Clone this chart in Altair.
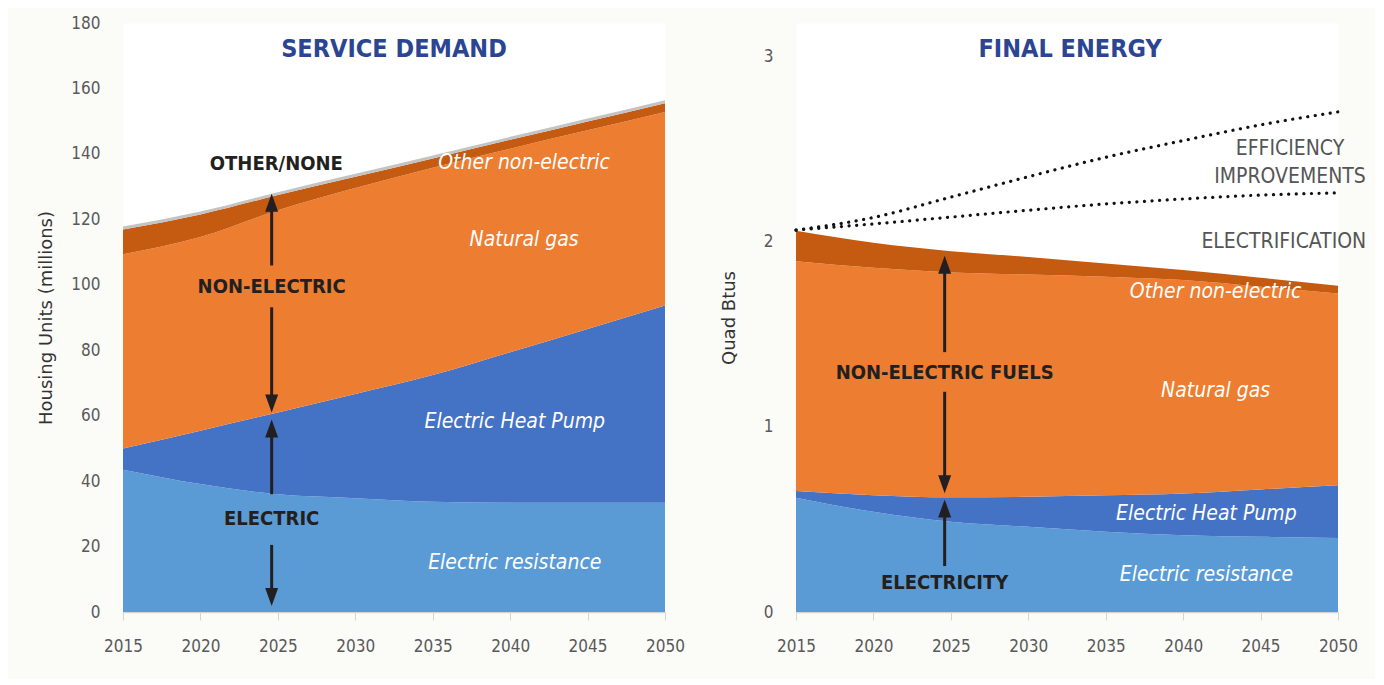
import altair as alt
import pandas as pd

# ---------------- data ----------------
years = [2015, 2020, 2025, 2030, 2035, 2040, 2045, 2050]
categories = ["Electric resistance", "Electric Heat Pump", "Natural gas",
              "Other non-electric", "Other/none"]
colors = ["#5B9BD5", "#4472C4", "#ED7D31", "#C55A11", "#C3C3C3"]

# Service demand: housing units (millions)
sd_resistance = [43.5, 39.1, 36.0, 34.8, 33.7, 33.4, 33.4, 33.4]
sd_heat_pump = [6.5, 16.3, 25.0, 31.8, 38.7, 46.0, 53.1, 60.3]
sd_natural_gas = [59.3, 59.2, 61.8, 63.0, 63.4, 62.2, 60.7, 59.1]
sd_other_nonelec = [7.6, 6.9, 4.6, 3.4, 2.8, 2.7, 2.7, 2.7]
sd_other_none = [0.9, 0.9, 0.9, 0.9, 0.9, 0.9, 0.9, 0.9]

# Final energy: quad Btus
fe_resistance = [0.617, 0.541, 0.487, 0.460, 0.433, 0.415, 0.406, 0.399]
fe_heat_pump = [0.036, 0.090, 0.132, 0.162, 0.197, 0.225, 0.256, 0.285]
fe_natural_gas = [1.241, 1.227, 1.214, 1.200, 1.180, 1.152, 1.094, 1.036]
fe_other_nonelec = [0.164, 0.135, 0.115, 0.095, 0.072, 0.054, 0.048, 0.041]

# Counterfactual totals (dotted lines)
fe_no_efficiency = [2.062, 2.130, 2.240, 2.350, 2.455, 2.545, 2.630, 2.700]
fe_no_electrification = [2.062, 2.095, 2.132, 2.169, 2.203, 2.230, 2.251, 2.263]

# annotation texts (year, value) in data coordinates
sd_title = ["SERVICE DEMAND"]
sd_title_pos = [(2032.5, 172.0)]
sd_group_labels = ["OTHER/NONE", "NON-ELECTRIC", "ELECTRIC"]
sd_group_pos = [(2024.9, 136.8), (2024.6, 99.3), (2024.6, 28.5)]
sd_series_labels = ["Other non-electric", "Natural gas", "Electric Heat Pump", "Electric resistance"]
sd_series_pos = [(2040.9, 137.3), (2040.9, 113.7), (2040.3, 58.2), (2040.3, 15.0)]
sd_arrow_year = 2024.6
sd_shafts = [(105.9, 124.0), (93.1, 64.0), (36.0, 56.0), (20.5, 5.0)]
sd_heads = [(127.85, "up"), (61.0, "down"), (58.8, "up"), (1.8, "down")]

fe_title = ["FINAL ENERGY"]
fe_title_pos = [(2032.7, 3.038)]
fe_group_labels = ["NON-ELECTRIC FUELS", "ELECTRICITY"]
fe_group_pos = [(2024.6, 1.292), (2024.6, 0.159)]
fe_gray_labels = ["EFFICIENCY", "IMPROVEMENTS", "ELECTRIFICATION"]
fe_gray_pos = [(2046.9, 2.499), (2046.9, 2.350), (2046.5, 1.997)]
fe_series_labels = ["Other non-electric", "Natural gas", "Electric Heat Pump", "Electric resistance"]
fe_series_pos = [(2042.1, 1.729), (2042.1, 1.193), (2041.5, 0.529), (2041.5, 0.200)]
fe_arrow_year = 2024.6
fe_shafts = [(1.403, 1.88), (1.189, 0.68), (0.248, 0.57)]
fe_heads = [(1.923, "up"), (0.641, "down"), (0.608, "up")]

# ---------------- styling ----------------
NARROW = "'Liberation Sans Narrow', 'DejaVu Sans Condensed', 'Roboto', sans-serif"
TITLE_FONT = "DejaVu Sans"
DARK = "#231F20"
NAVY = "#2B4592"
GRAY_TXT = "#595959"
W, H = 542, 589
UP = "M0,0L0.36,1L-0.36,1Z"
DOWN = "M0,0L0.36,-1L-0.36,-1Z"


def long_df(series):
    rows = []
    for k, (cat, vals) in enumerate(series):
        for y, v in zip(years, vals):
            rows.append({"year": y, "value": v, "category": cat, "k": k})
    return pd.DataFrame(rows)


def label_df(texts, pos):
    return pd.DataFrame({"label": texts,
                         "year": [p[0] for p in pos],
                         "value": [p[1] for p in pos]})


def panel(series, ymax, yticks, ytitle, title_pos, titles, group_txt, group_pos,
          series_txt, series_pos, arrow_year, shafts, heads, title_pad,
          extra_layers=None):
    xs = alt.Scale(domain=[2015, 2050], nice=False, zero=False)
    ys = alt.Scale(domain=[0, ymax], nice=False, zero=True)
    xaxis = alt.Axis(values=years, format="d", grid=False, domain=True,
                     domainColor="#D4D4D4", domainWidth=1.5, ticks=True,
                     tickColor="#D4D4D4", tickSize=8, tickWidth=1,
                     labelFont=NARROW, labelFontSize=17, labelColor=GRAY_TXT,
                     labelFlush=False, labelPadding=18, title="")
    yaxis = alt.Axis(values=yticks, grid=False, domain=False, ticks=False,
                     tickSize=0, labelFont=NARROW, labelFontSize=17,
                     labelColor=GRAY_TXT, labelPadding=23, labelFlush=False,
                     title=ytitle,
                     titleFont=TITLE_FONT, titleFontSize=18,
                     titleFontWeight="normal", titleColor="#333333",
                     titlePadding=title_pad)
    X = alt.X("year:Q", scale=xs, axis=xaxis)
    Y = alt.Y("value:Q", scale=ys, axis=yaxis)
    df = long_df(series)
    area = alt.Chart(df).mark_area(interpolate="monotone").encode(
        x=X,
        y=alt.Y("value:Q", stack="zero", scale=ys, axis=yaxis),
        color=alt.Color("category:N", scale=alt.Scale(domain=categories, range=colors),
                        legend=None),
        order=alt.Order("k:Q"),
    )
    layers = [area]
    if extra_layers:
        layers += [f(X, Y) for f in extra_layers]

    shaft_df = pd.DataFrame({"year": [arrow_year] * len(shafts),
                             "value": [s[0] for s in shafts],
                             "value2": [s[1] for s in shafts]})
    layers.append(alt.Chart(shaft_df).mark_rule(strokeWidth=3, color=DARK).encode(
        x=X, y=Y, y2="value2:Q"))
    head_df = pd.DataFrame({"year": [arrow_year] * len(heads),
                            "value": [h[0] for h in heads],
                            "dir": [h[1] for h in heads]})
    layers.append(alt.Chart(head_df).mark_point(filled=True, opacity=1, color=DARK,
                                                size=1296, strokeWidth=0).encode(
        x=X, y=Y,
        shape=alt.Shape("dir:N", scale=alt.Scale(domain=["up", "down"], range=[UP, DOWN]),
                        legend=None)))

    def txt(d, **kw):
        return alt.Chart(d).mark_text(baseline="middle", align="center", **kw).encode(
            x=X, y=Y, text="label:N")

    layers.append(txt(label_df(titles, title_pos), font=NARROW, fontSize=25,
                      fontWeight="bold", color=NAVY))
    layers.append(txt(label_df(group_txt, group_pos), font=NARROW, fontSize=20,
                      fontWeight="bold", color=DARK))
    layers.append(txt(label_df(series_txt, series_pos), font=NARROW, fontSize=21,
                      fontStyle="italic", color="white"))
    return alt.layer(*layers).properties(width=W, height=H)


sd_series = [(categories[0], sd_resistance), (categories[1], sd_heat_pump),
             (categories[2], sd_natural_gas), (categories[3], sd_other_nonelec),
             (categories[4], sd_other_none)]
fe_series = [(categories[0], fe_resistance), (categories[1], fe_heat_pump),
             (categories[2], fe_natural_gas), (categories[3], fe_other_nonelec)]


def dotted(X, Y):
    rows = []
    for name, vals in [("no efficiency", fe_no_efficiency),
                       ("no electrification", fe_no_electrification)]:
        for y, v in zip(years, vals):
            rows.append({"year": y, "value": v, "scenario": name})
    return alt.Chart(pd.DataFrame(rows)).mark_line(
        interpolate="monotone", strokeDash=[0.1, 7.5], strokeCap="round",
        strokeWidth=3.2, color="#111111").encode(
        x=X, y=Y, detail="scenario:N")


def gray_text(X, Y):
    return alt.Chart(label_df(fe_gray_labels, fe_gray_pos)).mark_text(
        baseline="middle", align="center", font=NARROW, fontSize=21,
        color="#555555").encode(x=X, y=Y, text="label:N")


left = panel(sd_series, 180, list(range(0, 181, 20)), "Housing Units (millions)",
             sd_title_pos, sd_title, sd_group_labels, sd_group_pos,
             sd_series_labels, sd_series_pos, sd_arrow_year, sd_shafts, sd_heads, 15)
right = panel(fe_series, 3.18, [0, 1, 2, 3], "Quad Btus",
              fe_title_pos, fe_title, fe_group_labels, fe_group_pos,
              fe_series_labels, fe_series_pos, fe_arrow_year, fe_shafts, fe_heads, 25,
              extra_layers=[dotted, gray_text])

chart = alt.hconcat(left, right, spacing=131, bounds="flush").properties(
    padding={"left": 29, "top": 5, "right": 8, "bottom": 24},
    background="#FBFBF8",
).configure_view(fill="white", stroke="transparent")

chart.save("out.html", embed_options={"renderer": "svg", "actions": False})
